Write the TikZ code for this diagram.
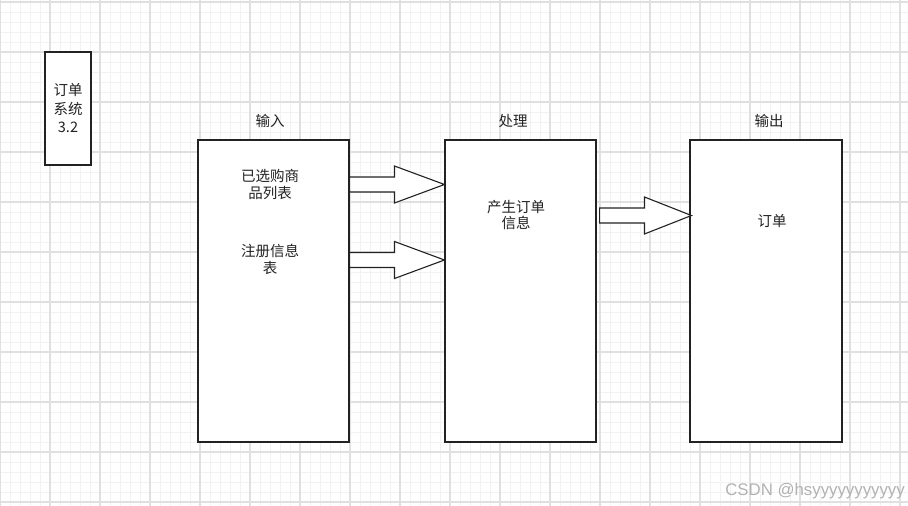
\documentclass[tikz,border=0pt]{standalone}
\usepackage{fontspec}
\setmainfont{Noto Sans CJK SC}
\newfontfamily\wmfont{Liberation Sans}
\usetikzlibrary{calc, positioning}

\definecolor{gridminor}{HTML}{F2F2F2}
\definecolor{gridmajor}{HTML}{E0E0E0}
\definecolor{edge}{HTML}{222222}

\tikzset{
  box/.style={draw=edge, line width=1.1pt, fill=white, inner sep=0pt},
  txt/.style={align=center, font=\fontsize{14.5}{16.5}\selectfont, text=edge},
  fat/.style={draw=edge, line width=1.1pt, fill=white, line join=miter},
}

% block arrow from #1 to #2 (horizontal), shaft half width 7.5, head half width 18.5, head length #3
\newcommand{\fatarrow}[3]{
  \draw[fat] let \p1=(#1), \p2=(#2) in
    (\x1,\y1+7.5pt) -- (\x2-#3pt,\y1+7.5pt) -- (\x2-#3pt,\y1+18.5pt) -- (\x2,\y1)
    -- (\x2-#3pt,\y1-18.5pt) -- (\x2-#3pt,\y1-7.5pt) -- (\x1,\y1-7.5pt) -- cycle;
}

\begin{document}
\begin{tikzpicture}[x=1pt, y=-1pt]
            \useasboundingbox (0,0) rectangle (908,506);
            \fill[white] (0,0) rectangle (908,506);
            % grid
            \foreach \x in {0,10,...,900} \draw[gridminor, line width=1pt] (\x,0) -- (\x,506);
            \foreach \y in {2,12,...,502} \draw[gridminor, line width=1pt] (0,\y) -- (908,\y);
            \foreach \x in {0,50,...,900} \draw[gridmajor, line width=1.2pt] (\x,0) -- (\x,506);
            \foreach \y in {2,52,...,502} \draw[gridmajor, line width=1.2pt] (0,\y) -- (908,\y);

            % boxes
            \node[box, minimum width=46pt, minimum height=113pt] (sys) at (68,108.5) {};
            \node[box, minimum width=151pt, minimum height=302pt] (in) at (273.5,291) {};
            \node[box, minimum width=151pt, minimum height=302pt] (proc) at (520.5,291) {};
            \node[box, minimum width=152pt, minimum height=302pt] (out) at (766,291) {};

            % texts
            \node[txt, font=\fontsize{14.5}{18.5}\selectfont] (systxt) at (sys) {订单\\系统\\3.2};
            \node[txt] (inlbl) at (270,121) {输入};
            \node[txt] (proclbl) at (513,121) {处理};
            \node[txt] (outlbl) at (769,121) {输出};
            \node[txt] (goods) at (270,184.5) {已选购商\\品列表};
            \node[txt] (reg) at (270,259.5) {注册信息\\表};
            \node[txt] (gen) at (516,215) {产生订单\\信息};
            \node[txt] (order) at (772,221.5) {订单};

            % arrows
            \fatarrow{in.east |- 0,184.5}{proc.west |- 0,184.5}{50}
            \fatarrow{in.east |- 0,260}{proc.west |- 0,260}{50}
            \fatarrow{$(proc.east |- 0,215.5)+(3,0)$}{$(out.west |- 0,215.5)+(2,0)$}{47}

            \node[font=\wmfont\fontsize{16.8}{18}\selectfont, text=black!30, anchor=east, inner sep=0pt] (mark) at (905,491) {CSDN @hsyyyyyyyyyyy};
        \end{tikzpicture}
\end{document}
